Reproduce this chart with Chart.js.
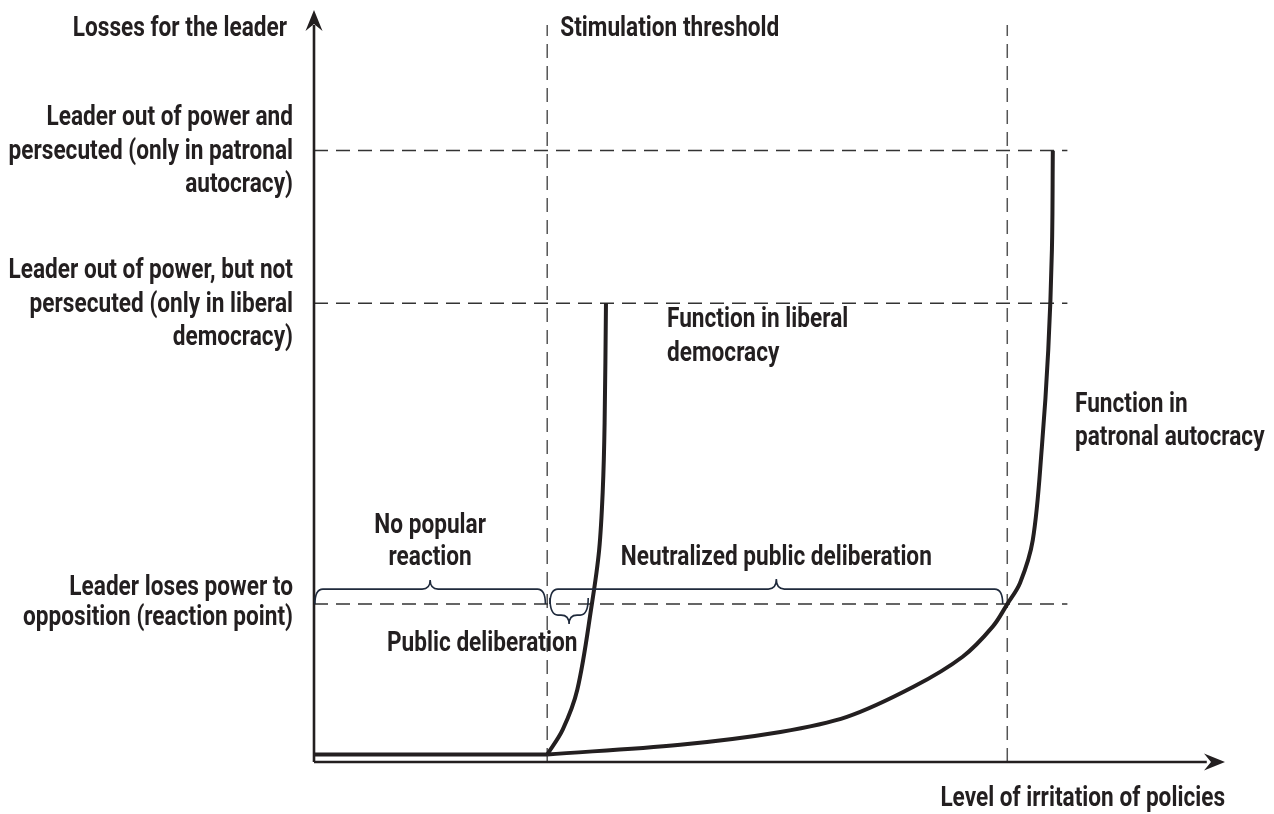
<!DOCTYPE html>
<html>
<head>
<meta charset="utf-8">
<script src="https://cdn.jsdelivr.net/npm/chart.js@4.4.1/dist/chart.umd.min.js"></script>
<style>
  html, body { margin: 0; padding: 0; background: #fff; }
  #wrap { width: 1274px; height: 814px; }
</style>
</head>
<body>
<div id="wrap"><canvas id="chart" width="1274" height="814"></canvas></div>
<script>
// values (x: irritation 0..100, y: losses 0..100)
const baselineX = [0, 25.6];
const baselineY = [1, 1];

const liberalX = [25.6, 27.3, 28.9, 30.5, 31.3, 31.7, 31.9, 32.05];
const liberalY = [1, 4.3, 9.6, 21.0, 28.2, 36.2, 45.1, 61.0];

const autocracyX = [25.6, 40.2, 51.2, 58.5, 65.8, 71.2, 74.5, 76.1, 77.5, 78.9, 79.9, 80.6, 81.0, 81.1];
const autocracyY = [1, 2.3, 4.0, 6.0, 10.0, 14.0, 18.0, 21.0, 23.8, 29.5, 41.9, 54.8, 68.1, 81.3];

// horizontal guide levels (reaction point, liberal ousting, patronal ousting)
const levelValues = [21.0, 61.0, 81.3];
const levelLabels = [
  ["Leader loses power to", "opposition (reaction point)"],
  ["Leader out of power, but not", "persecuted (only in liberal", "democracy)"],
  ["Leader out of power and", "persecuted (only in patronal", "autocracy)"]
];
const guideEndX = 82.7;

// vertical guides: stimulation threshold, autocracy reaction point
const vGuides = [25.6, 76.1];
const vGuideTop = 98;

// braces along the reaction line: [from, to]
const braceNoReaction = [0.1, 25.4];
const braceNeutralized = [25.9, 75.6];
const bracePublic = [25.9, 30.1];

const ink = "#231f20";
const font = 'bold 27px Roboto, "DejaVu Sans", sans-serif';

const pts = (xs, ys) => xs.map((x, i) => ({ x: x, y: ys[i] }));

const datasets = [];
levelValues.forEach(v => datasets.push({
  data: pts([0, guideEndX], [v, v]),
  borderColor: "#333", borderWidth: 1.5, borderDash: [14, 8], order: 5
}));
vGuides.forEach(v => datasets.push({
  data: pts([v, v], [0, vGuideTop]),
  borderColor: "#555", borderWidth: 1.5, borderDash: [14, 8], order: 5
}));
// axes
datasets.push({ data: pts([0, 0], [0, 98]), borderColor: ink, borderWidth: 2.6, order: 3 });
datasets.push({ data: pts([0, 98], [0, 0]), borderColor: ink, borderWidth: 2.6, order: 3 });
// curves
datasets.push({ data: pts(baselineX, baselineY), borderColor: ink, borderWidth: 4, order: 1 });
datasets.push({ data: pts(liberalX, liberalY), borderColor: ink, borderWidth: 4, tension: 0.35, order: 1 });
datasets.push({ data: pts(autocracyX, autocracyY), borderColor: ink, borderWidth: 4, tension: 0.35, order: 1 });

function brace(ctx, x1, x2, y0, dir, h, t) {
  // dir -1: tip points up, +1: tip points down
  const yh = y0 + dir * h, yt = yh + dir * t, xm = (x1 + x2) / 2, r = 8;
  ctx.beginPath();
  ctx.moveTo(x1, y0);
  ctx.quadraticCurveTo(x1, yh, x1 + r, yh);
  ctx.lineTo(xm - r, yh);
  ctx.quadraticCurveTo(xm, yh, xm, yt);
  ctx.quadraticCurveTo(xm, yh, xm + r, yh);
  ctx.lineTo(x2 - r, yh);
  ctx.quadraticCurveTo(x2, yh, x2, y0);
  ctx.stroke();
}

function arrow(ctx, x, y, angle) {
  ctx.save();
  ctx.translate(x, y);
  ctx.rotate(angle);
  ctx.beginPath();
  ctx.moveTo(0, 0);
  ctx.lineTo(-21, -8.5);
  ctx.lineTo(-14, 0);
  ctx.lineTo(-21, 8.5);
  ctx.closePath();
  ctx.fillStyle = ink;
  ctx.fill();
  ctx.restore();
}

const annotations = {
  id: "annotations",
  afterDatasetsDraw(chart) {
    const ctx = chart.ctx, xs = chart.scales.x, ys = chart.scales.y;
    const px = v => xs.getPixelForValue(v), py = v => ys.getPixelForValue(v);

    arrow(ctx, px(0), py(100), -Math.PI / 2);
    arrow(ctx, px(100), py(0), 0);

    const yr = py(levelValues[0]);
    ctx.save();
    ctx.strokeStyle = "#1f2a3c";
    ctx.lineWidth = 1.6;
    brace(ctx, px(braceNoReaction[0]), px(braceNoReaction[1]), yr, -1, 15, 9);
    brace(ctx, px(braceNeutralized[0]), px(braceNeutralized[1]), yr, -1, 15, 10);
    brace(ctx, px(bracePublic[0]), px(bracePublic[1]), yr - 6, 1, 17, 9);
    ctx.restore();

    ctx.save();
    ctx.fillStyle = ink;
    ctx.font = font;
    ctx.textBaseline = "middle";
    // condensed look: squeeze the text horizontally
    const f = 311 / ctx.measureText("Neutralized public deliberation").width;
    const txt = (s, x, y, align) => {
      ctx.save();
      ctx.textAlign = align;
      ctx.translate(x, y + 1);
      ctx.scale(f, 1);
      ctx.fillText(s, 0, 0);
      ctx.restore();
    };

    const lx = px(0) - 21;
    txt("Losses for the leader", lx - 6, py(100) + 18, "right");
    levelLabels.forEach((lines, i) => {
      const c = py(levelValues[i]);
      const start = lines.length === 3 ? c - 33 : c - 17;
      const step = lines.length === 3 ? 33.5 : 30;
      lines.forEach((s, j) => txt(s, lx, start + j * step, "right"));
    });
    txt("Level of irritation of policies", px(100), py(0) + 36, "right");

    txt("Stimulation threshold", px(vGuides[0]) + 13, py(100) + 18, "left");
    txt("Function in liberal", 667, py(levelValues[1]) + 16, "left");
    txt("democracy", 667, py(levelValues[1]) + 50, "left");
    txt("Function in", 1075, 404, "left");
    txt("patronal autocracy", 1075, 437, "left");
    txt("Public deliberation", 387, yr + 39, "left");

    const mNo = (px(braceNoReaction[0]) + px(braceNoReaction[1])) / 2;
    txt("No popular", mNo, yr - 79, "center");
    txt("reaction", mNo, yr - 47, "center");
    const mNe = (px(braceNeutralized[0]) + px(braceNeutralized[1])) / 2;
    txt("Neutralized public deliberation", mNe, yr - 47, "center");
    ctx.restore();
  }
};

new Chart(document.getElementById("chart"), {
  type: "line",
  data: { datasets: datasets },
  options: {
    responsive: false,
    animation: false,
    layout: { padding: { left: 314, right: 49, top: 10, bottom: 52 } },
    elements: { point: { radius: 0 }, line: { tension: 0, borderCapStyle: "butt" } },
    datasets: { line: { clip: false, fill: false } },
    plugins: { legend: { display: false }, tooltip: { enabled: false } },
    scales: {
      x: { type: "linear", min: 0, max: 100, display: false },
      y: { type: "linear", min: 0, max: 100, display: false }
    }
  },
  plugins: [annotations]
});
</script>
</body>
</html>
